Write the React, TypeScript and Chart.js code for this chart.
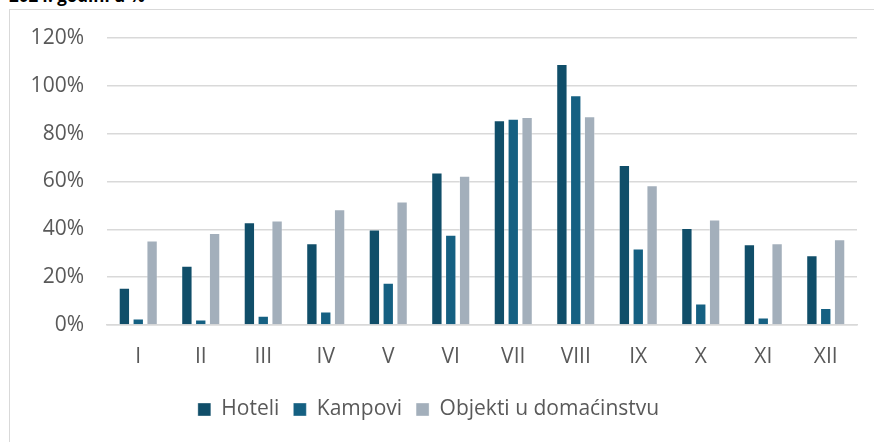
import React, { useEffect, useRef } from "react";
import { Chart, registerables } from "chart.js";

Chart.register(...registerables);

const categories = ["I", "II", "III", "IV", "V", "VI", "VII", "VIII", "IX", "X", "XI", "XII"];
const hoteli = [15.5, 24.7, 42.9, 34.1, 39.8, 63.7, 85.5, 109, 66.8, 40.5, 33.7, 29.1];
const kampovi = [2.6, 2.2, 3.8, 5.6, 17.6, 37.7, 86.2, 96, 31.9, 8.9, 3.1, 7.0];
const objekti = [35.2, 38.4, 43.6, 48.3, 51.6, 62.3, 86.9, 87.2, 58.4, 44, 34.1, 35.8];
const seriesNames = ["Hoteli", "Kampovi", "Objekti u domaćinstvu"];
const titleText = "2024. godini u %";

const FONT = "'Open Sans', 'Liberation Sans', sans-serif";

export default function App() {
  const ref = useRef<HTMLCanvasElement | null>(null);

  useEffect(() => {
    if (!ref.current) return;
    const mk = (label: string, data: number[], color: string) => ({
      label,
      data,
      backgroundColor: color,
      borderColor: "rgba(255,255,255,0.45)",
      borderWidth: 0.8,
      categoryPercentage: 0.665,
      barPercentage: 0.79,
    });
    const chart = new Chart(ref.current, {
      type: "bar",
      data: {
        labels: categories,
        datasets: [
          mk(seriesNames[0], hoteli, "#104e69"),
          mk(seriesNames[1], kampovi, "#156082"),
          mk(seriesNames[2], objekti, "#a3afbb"),
        ],
      },
      options: {
        animation: false,
        responsive: false,
        maintainAspectRatio: false,
        layout: { padding: { top: 38, right: 17, bottom: 12, left: 0 } },
        plugins: {
          tooltip: { enabled: false },
          legend: {
            position: "bottom",
            labels: {
              boxWidth: 13,
              boxHeight: 13,
              padding: 14,
              color: "#595959",
              font: { family: FONT, size: 21 },
            },
          },
        },
        scales: {
          x: {
            grid: { display: false, drawTicks: false },
            border: { display: true, color: "#d9d9d9", width: 1.5 },
            ticks: { color: "#595959", font: { family: FONT, size: 21 }, padding: 19 },
            afterFit: (s: any) => {
              s.height = 60;
            },
          },
          y: {
            min: 0,
            max: 120,
            ticks: {
              stepSize: 20,
              color: "#595959",
              font: { family: FONT, size: 21 },
              padding: 23,
              callback: (v: any) => v + "%",
            },
            grid: { color: "#d9d9d9", lineWidth: 1.5, drawTicks: false },
            border: { display: false },
            afterFit: (s: any) => {
              s.width = 107;
            },
          },
        },
      },
    });
    return () => chart.destroy();
  }, []);

  return (
    <div
      style={{
        position: "fixed",
        left: 0,
        top: 0,
        width: 874,
        height: 442,
        overflow: "hidden",
        background: "#fff",
      }}
    >
      <div
        style={{
          position: "absolute",
          left: 9,
          top: -13,
          font: `bold 17px ${FONT}`,
          lineHeight: "17px",
          color: "#000",
          whiteSpace: "nowrap",
        }}
      >
        {titleText}
      </div>
      <div
        style={{
          position: "absolute",
          left: 9,
          top: 9,
          width: 900,
          height: 500,
          borderTop: "1px solid #d9d9d9",
          borderLeft: "1.5px solid #d9d9d9",
        }}
      />
      <canvas
        ref={ref}
        width={874}
        height={442}
        style={{ position: "absolute", left: 0, top: 0, width: 874, height: 442 }}
      />
    </div>
  );
}
